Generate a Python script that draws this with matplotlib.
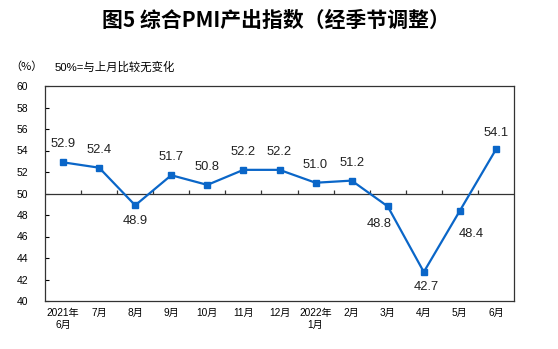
import matplotlib.pyplot as plt

plt.rcParams['font.family'] = ['Liberation Sans', 'Noto Sans CJK SC', 'DejaVu Sans']

months = ['2021年\n6月', '7月', '8月', '9月', '10月', '11月', '12月',
          '2022年\n1月', '2月', '3月', '4月', '5月', '6月']
values = [52.9, 52.4, 48.9, 51.7, 50.8, 52.2, 52.2, 51.0, 51.2, 48.8, 42.7, 48.4, 54.1]
# label offsets in points (dx, dy)
offsets = [(0, 13), (0, 13), (0, -11), (0, 13), (0, 13), (0, 13), (0, 13),
           (0, 13), (0, 13), (-6.5, -13), (1.5, -11), (8, -16.5), (0, 12)]

line_color = '#0a66c8'

fig = plt.figure(figsize=(5.58, 3.49), dpi=100)
ax = fig.add_axes([45 / 558, 48 / 349, 469 / 558, 215 / 349])

x = list(range(len(values)))
ax.plot(x, values, color=line_color, lw=1.6, marker='s', ms=4, zorder=3)

for i, v in enumerate(values):
    ax.annotate(f'{v:.1f}', (i, v), xytext=offsets[i], textcoords='offset points',
                ha='center', va='center', fontsize=9.3, color='#222222')

# 50 line with category ticks
ax.axhline(50, color='#333333', lw=0.9, zorder=2)
ax.vlines([i + 0.5 for i in range(len(values) - 1)], 50, 50.3, color='#333333', lw=0.9)

ax.set_xlim(-0.5, len(values) - 0.5)
ax.set_ylim(40, 60)
ax.set_yticks(range(40, 61, 2))
ax.tick_params(axis='y', direction='in', length=3, labelsize=7.5, pad=12, width=0.8)
ax.set_xticks(x)
ax.set_xticklabels(months, fontsize=7.3, linespacing=1.3)
ax.tick_params(axis='x', length=0, pad=5)
for s in ax.spines.values():
    s.set_color('#333333')
    s.set_linewidth(0.9)

fig.text(0.495, 1 - 20 / 349, '图5 综合PMI产出指数（经季节调整）', ha='center', va='center',
         fontsize=15, fontweight='bold', family=['Noto Sans CJK SC'])
fig.text(10 / 558, 1 - 67 / 349, '（%）', ha='left', va='center', fontsize=8,
         family=['Noto Sans CJK SC'])
fig.text(55 / 558, 1 - 67 / 349, '50%=与上月比较无变化', ha='left', va='center', fontsize=8.2)

fig.savefig('out.png', dpi=100)
